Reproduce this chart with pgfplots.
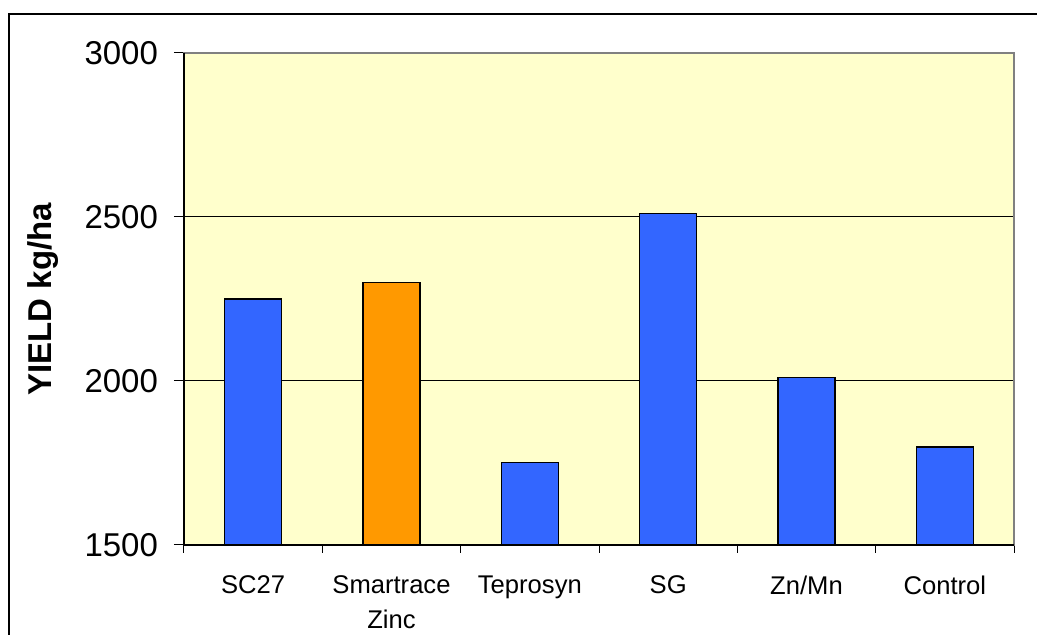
\documentclass[border=0pt]{standalone}
\usepackage{pgfplots}
\pgfplotsset{compat=1.18}
\usepackage{fontspec}
\setmainfont{Liberation Sans}
\definecolor{bgY}{HTML}{FFFFCC}
\definecolor{barB}{HTML}{3366FF}
\definecolor{barO}{HTML}{FF9900}
\begin{document}
\begin{tikzpicture}
\begin{axis}[
  scale only axis,
  width=415pt, height=246pt,
  xmin=-0.5, xmax=5.5,
  ymin=1500, ymax=3000,
  ytick={1500,2000,2500,3000},
  xtick={0,1,2,3,4,5},
  xticklabels={SC27,Smartrace\\Zinc,Teprosyn,SG,Zn/Mn,Control},
  minor xtick={-0.5,0.5,1.5,2.5,3.5,4.5,5.5},
  major x tick style={draw=none},
  minor x tick style={draw=black, line width=0.5pt},
  major y tick style={draw=black, line width=0.5pt},
  tick align=outside,
  minor tick length=4pt,
  major tick length=5pt,
  xtick pos=bottom, ytick pos=left,
  ymajorgrids,
  grid style={black, line width=0.5pt},
  axis background/.style={fill=bgY},
  axis line style={draw=gray, line width=0.6pt},
  /pgf/number format/assume math mode=true,
  /pgf/number format/set thousands separator={},
  yticklabel style={font=\fontsize{16.5}{18}\selectfont, xshift=-4.5pt},
  xticklabel style={font=\fontsize{12.8}{17.5}\selectfont, align=center, anchor=north, yshift=-7pt},
  ylabel={\textbf{YIELD kg/ha}},
  ylabel style={font=\fontsize{16.5}{18}\selectfont, yshift=6pt},
  ybar, bar width=28.5pt,
  every axis plot/.append style={draw=black, line width=0.75pt},
  clip=false,
]
\addplot[fill=barB, bar shift=0pt] coordinates {(0,2250) (2,1752) (3,2510) (4,2010) (5,1798)};
\addplot[fill=barO, bar shift=0pt] coordinates {(1,2300)};
\draw[black, line width=0.8pt] (axis cs:-0.5,3000) -- (axis cs:-0.5,1500) -- (axis cs:5.5,1500);
\end{axis}
\draw[black, line width=1pt] (-87.5pt,-45pt) -- (-87.5pt,265.5pt) -- (426.5pt,265.5pt);
\pgfresetboundingbox
\useasboundingbox (-92pt,-45pt) rectangle (426.5pt,272.5pt);
\end{tikzpicture}
\end{document}
